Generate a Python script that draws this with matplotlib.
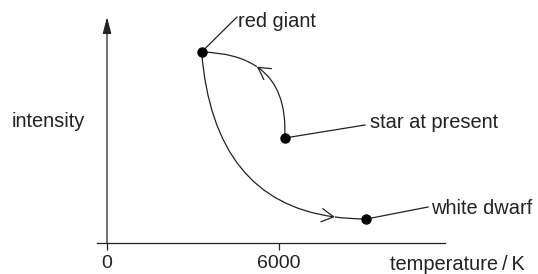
import numpy as np
import matplotlib.pyplot as plt
from matplotlib.path import Path
from matplotlib.patches import FancyArrowPatch, PathPatch, ArrowStyle

plt.rcParams['font.family'] = ['Liberation Sans', 'DejaVu Sans']

# stages of the star: temperature / K and intensity (arbitrary units)
stages = ['red giant', 'star at present', 'white dwarf']
temps = [3300, 6200, 9050]
intens = [9.55, 5.25, 1.2]

# the two evolution tracks: start, bend (control point), end, and where the arrow sits
up_track = [(6200, 5.25), (6350, 9.45), (3300, 9.55)]     # star at present -> red giant
up_arrow_t = 0.6
down_track = [(3300, 9.55), (3770, 1.2), (9050, 1.2)]     # red giant -> white dwarf
down_arrow_t = 0.89

xticks = [0, 6000]
xticklabels = ['0', '6000']

# label leaders (end of the line) and label anchors
leader_end = [(4535, 11.3), (9000, 5.9), (11200, 1.8)]
label_pos = [(4570, 10.78), (9175, 5.75), (11300, 1.45)]

ink = '#222222'
lw = 0.9
fs = 14.4


def split_quad(p0, p1, p2, t):
    p0, p1, p2 = np.array(p0, float), np.array(p1, float), np.array(p2, float)
    q0 = p0 + t * (p1 - p0)
    q1 = p1 + t * (p2 - p1)
    m = q0 + t * (q1 - q0)
    return (p0, q0, m), (m, q1, p2)


codes = [Path.MOVETO, Path.CURVE3, Path.CURVE3]

fig = plt.figure(figsize=(5.38, 2.74), dpi=100)
ax = fig.add_axes([0, 0, 1, 1])
ax.set_xlim(-3733, 15035)
ax.set_ylim(-1.55, 12.15)

for s in ['left', 'right', 'top']:
    ax.spines[s].set_visible(False)
ax.spines['bottom'].set_position(('data', 0))
ax.spines['bottom'].set_bounds(-350, 11790)
ax.spines['bottom'].set_linewidth(lw)
ax.spines['bottom'].set_color(ink)
ax.set_yticks([])
ax.set_xticks(xticks)
ax.set_xticklabels(xticklabels)
ax.tick_params(axis='x', direction='out', length=5, width=lw, color=ink,
               labelsize=14, pad=4, labelcolor=ink)
ax.patch.set_alpha(0)

# intensity axis with filled arrow head
ax.add_patch(FancyArrowPatch((0, 0), (0, 11.3),
                             arrowstyle=ArrowStyle('-|>', head_length=10, head_width=2.6),
                             mutation_scale=1, lw=lw, color=ink,
                             shrinkA=0, shrinkB=0))

# tracks with open arrow heads part way along
for track, t in [(up_track, up_arrow_t), (down_track, down_arrow_t)]:
    first, second = split_quad(*track, t)
    ax.add_patch(FancyArrowPatch(path=Path(first, codes),
                                 arrowstyle=ArrowStyle('->', head_length=8.5, head_width=4.8),
                                 mutation_scale=1, lw=lw, color=ink))
    ax.add_patch(PathPatch(Path(second, codes), fill=False, lw=lw, edgecolor=ink))

ax.plot(temps, intens, 'o', ms=6.5, color='black', zorder=5)

for i, name in enumerate(stages):
    ax.plot([temps[i], leader_end[i][0]], [intens[i], leader_end[i][1]],
            lw=lw, color=ink)
    ax.text(label_pos[i][0], label_pos[i][1], name, ha='left', va='baseline',
            fontsize=fs, color=ink)

ax.text(-3314, 5.8, 'intensity', ha='left', va='baseline', fontsize=fs, color=ink)
ax.text(9872, -1.35, 'temperature\u2009/\u2009K', ha='left', va='baseline',
        fontsize=fs, color=ink)

fig.savefig('out.png', dpi=100, facecolor='white')
